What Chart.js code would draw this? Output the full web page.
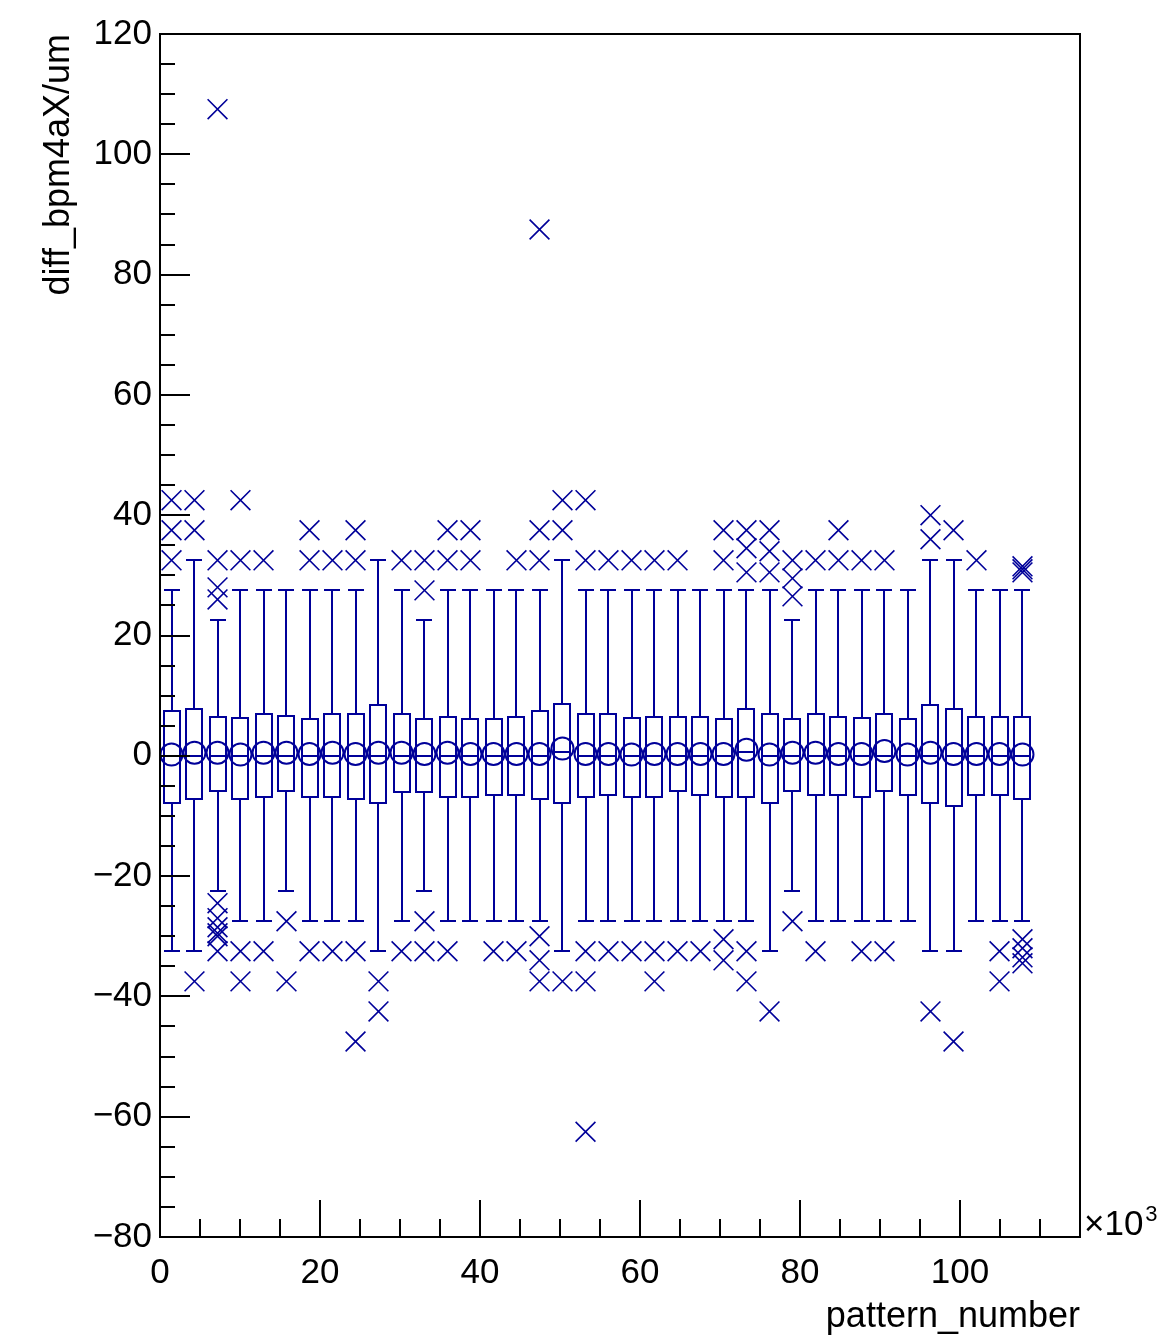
<!DOCTYPE html>
<html>
<head>
<meta charset="utf-8">
<script src="https://cdn.jsdelivr.net/npm/chart.js@4.4.1/dist/chart.umd.min.js"></script>
<style>
  html, body { margin: 0; padding: 0; background: #fff; }
  canvas { display: block; }
</style>
</head>
<body>
<canvas id="grafica" width="1164" height="1339"></canvas>
<script>
// centros de cada bin (pattern_number, x10^3)
const binCenters = [1.44, 4.31, 7.19, 10.06, 12.94, 15.81, 18.69, 21.56, 24.44, 27.31,
  30.19, 33.06, 35.94, 38.81, 41.69, 44.56, 47.44, 50.31, 53.19, 56.06,
  58.94, 61.81, 64.69, 67.56, 70.44, 73.31, 76.19, 79.06, 81.94, 84.81,
  87.69, 90.56, 93.44, 96.31, 99.19, 102.06, 104.94, 107.81];

// cuartiles (caja)
const q3 = [7.4, 7.8, 6.5, 6.3, 7.0, 6.6, 6.1, 7.0, 7.0, 8.4,
  7.0, 6.1, 6.5, 6.1, 6.1, 6.5, 7.5, 8.6, 7.0, 7.0,
  6.3, 6.5, 6.5, 6.5, 6.1, 7.8, 7.0, 6.1, 7.0, 6.5,
  6.3, 7.0, 6.1, 8.4, 7.8, 6.5, 6.5, 6.5];
const q1 = [-7.8, -7.1, -5.9, -7.1, -6.9, -5.9, -6.9, -6.9, -7.1, -7.9,
  -6.0, -6.0, -6.8, -6.9, -6.5, -6.5, -7.1, -7.9, -6.9, -6.5,
  -6.9, -6.9, -5.9, -6.5, -6.9, -6.9, -7.8, -5.9, -6.5, -6.5,
  -6.9, -5.9, -6.5, -7.8, -8.3, -6.5, -6.5, -7.1];
const medians = [0, 0, 0, 0, 0, 0, 0, 0, 0, 0,
  0, 0, 0, 0, 0, 0, 0, 0.7, 0, 0,
  0, 0, 0, 0, 0, 0.7, 0, 0, 0, 0,
  0, 0, 0, 0, 0, 0, 0, 0];
const means = [0.2, 0.5, 0.5, 0.2, 0.5, 0.5, 0.3, 0.5, 0.3, 0.5,
  0.5, 0.3, 0.5, 0.3, 0.3, 0.3, 0.3, 1.2, 0.3, 0.3,
  0.2, 0.3, 0.3, 0.3, 0.3, 1.0, 0.2, 0.5, 0.5, 0.3,
  0.3, 0.8, 0.2, 0.5, 0.3, 0.3, 0.3, 0.2];

// bigotes
const whiskerHigh = [27.5, 32.5, 22.5, 27.5, 27.5, 27.5, 27.5, 27.5, 27.5, 32.5,
  27.5, 22.5, 27.5, 27.5, 27.5, 27.5, 27.5, 32.5, 27.5, 27.5,
  27.5, 27.5, 27.5, 27.5, 27.5, 27.5, 27.5, 22.5, 27.5, 27.5,
  27.5, 27.5, 27.5, 32.5, 32.5, 27.5, 27.5, 27.5];
const whiskerLow = [-32.5, -32.5, -22.5, -27.5, -27.5, -22.5, -27.5, -27.5, -27.5, -32.5,
  -27.5, -22.5, -27.5, -27.5, -27.5, -27.5, -27.5, -32.5, -27.5, -27.5,
  -27.5, -27.5, -27.5, -27.5, -27.5, -27.5, -32.5, -22.5, -27.5, -27.5,
  -27.5, -27.5, -27.5, -32.5, -32.5, -27.5, -27.5, -27.5];

// valores atipicos por bin
const outliers = [
  [32.5, 37.5, 42.5],
  [37.5, 42.5, -37.5],
  [107.5, 32.5, 28, 26, -24.5, -27, -28.5, -29.5, -30, -32.5],
  [42.5, 32.5, -32.5, -37.5],
  [32.5, -32.5],
  [-27.5, -37.5],
  [37.5, 32.5, -32.5],
  [32.5, -32.5],
  [37.5, 32.5, -32.5, -47.5],
  [-37.5, -42.5],
  [32.5, -32.5],
  [32.5, 27.5, -27.5, -32.5],
  [37.5, 32.5, -32.5],
  [37.5, 32.5],
  [-32.5],
  [32.5, -32.5],
  [87.5, 37.5, 32.5, -30, -34, -37.5],
  [42.5, 37.5, -37.5],
  [42.5, 32.5, -32.5, -37.5, -62.5],
  [32.5, -32.5],
  [32.5, -32.5],
  [32.5, -32.5, -37.5],
  [32.5, -32.5],
  [-32.5],
  [37.5, 32.5, -30.5, -34],
  [37.5, 34.5, 30.5, -32.5, -37.5],
  [37.5, 34, 30.5, -42.5],
  [32.5, 29.5, 26.5, -27.5],
  [32.5, -32.5],
  [37.5, 32.5],
  [32.5, -32.5],
  [32.5, -32.5],
  [],
  [40, 36, -42.5],
  [37.5, -47.5],
  [32.5],
  [-32.5, -37.5],
  [30.5, 31, 31.5, -30.5, -32, -33.5, -34.5]
];

const azul = '#000099';
const fuente = "'Liberation Sans', Arial, Helvetica, sans-serif";
const candleWidth = 1.9; // ancho de la caja en unidades de x

// Dibuja cajas y bigotes usando las escalas del grafico
const candlePlugin = {
  id: 'candles',
  beforeDatasetsDraw(chart) {
    const { ctx, scales: { x, y } } = chart;
    const half = Math.round((x.getPixelForValue(candleWidth) - x.getPixelForValue(0)) / 2);
    ctx.save();
    ctx.strokeStyle = azul;
    ctx.lineWidth = 2;
    binCenters.forEach((c, i) => {
      const px = Math.round(x.getPixelForValue(c));
      const yHi = Math.round(y.getPixelForValue(whiskerHigh[i]));
      const yLo = Math.round(y.getPixelForValue(whiskerLow[i]));
      const yQ3 = Math.round(y.getPixelForValue(q3[i]));
      const yQ1 = Math.round(y.getPixelForValue(q1[i]));
      const yMed = Math.round(y.getPixelForValue(medians[i]));
      ctx.beginPath();
      ctx.moveTo(px, yHi); ctx.lineTo(px, yQ3);
      ctx.moveTo(px, yQ1); ctx.lineTo(px, yLo);
      ctx.moveTo(px - half, yHi); ctx.lineTo(px + half, yHi);
      ctx.moveTo(px - half, yLo); ctx.lineTo(px + half, yLo);
      ctx.rect(px - half, yQ3, 2 * half, yQ1 - yQ3);
      ctx.moveTo(px - half, yMed); ctx.lineTo(px + half, yMed);
      ctx.stroke();
    });
    ctx.restore();
  }
};

// Marco, marcas de los ejes y el factor x10^3 (estilo ROOT)
const framePlugin = {
  id: 'rootFrame',
  afterDraw(chart) {
    const { ctx, chartArea: a, scales: { x, y } } = chart;
    ctx.save();
    ctx.strokeStyle = '#000';
    ctx.lineWidth = 2;
    ctx.strokeRect(a.left, a.top, a.right - a.left, a.bottom - a.top);
    ctx.beginPath();
    for (let v = y.min; v <= y.max; v += 5) {
      const py = Math.round(y.getPixelForValue(v));
      const len = v % 20 === 0 ? 30 : 15;
      ctx.moveTo(a.left, py); ctx.lineTo(a.left + len, py);
    }
    for (let v = x.min; v <= x.max; v += 5) {
      const px = Math.round(x.getPixelForValue(v));
      const len = v % 20 === 0 ? 37 : 18;
      ctx.moveTo(px, a.bottom); ctx.lineTo(px, a.bottom - len);
    }
    ctx.stroke();

    ctx.fillStyle = '#000';
    ctx.textBaseline = 'alphabetic';
    ctx.textAlign = 'left';
    ctx.font = '35px ' + fuente;
    const base = a.bottom - 2;
    const txt = '\u00d710';
    ctx.fillText(txt, a.right + 4, base);
    const w = ctx.measureText(txt).width;
    ctx.font = '22px ' + fuente;
    ctx.fillText('3', a.right + 6 + w, base - 14);
    ctx.restore();
  }
};

const outlierPoints = outliers.flatMap((vals, i) => vals.map(v => ({ x: binCenters[i], y: v })));
const meanPoints = binCenters.map((c, i) => ({ x: c, y: means[i] }));

new Chart(document.getElementById('grafica'), {
  type: 'scatter',
  data: {
    datasets: [
      {
        label: 'media',
        data: meanPoints,
        pointStyle: 'circle',
        pointRadius: 11,
        backgroundColor: 'rgba(0,0,0,0)',
        borderColor: azul,
        borderWidth: 2
      },
      {
        label: 'atipicos',
        data: outlierPoints,
        pointStyle: 'crossRot',
        pointRadius: 14,
        borderColor: azul,
        borderWidth: 1.6
      }
    ]
  },
  options: {
    responsive: false,
    devicePixelRatio: 1,
    animation: false,
    layout: { padding: { top: 34, right: 84, left: 0, bottom: 0 } },
    plugins: { legend: { display: false }, tooltip: { enabled: false } },
    scales: {
      x: {
        type: 'linear',
        position: 'bottom',
        min: 0,
        max: 115,
        grid: { display: false, drawTicks: false },
        border: { display: false },
        afterBuildTicks: (scale) => { scale.ticks = scale.ticks.filter(t => t.value % 20 === 0); },
        afterFit: (scale) => { scale.height = 102; },
        ticks: {
          stepSize: 20,
          padding: 15,
          color: '#000',
          font: { family: fuente, size: 35 },
          maxRotation: 0
        },
        title: {
          display: true,
          text: 'pattern_number',
          align: 'end',
          color: '#000',
          font: { family: fuente, size: 36 },
          padding: { top: 0, bottom: 0 }
        }
      },
      y: {
        type: 'linear',
        position: 'left',
        min: -80,
        max: 120,
        grid: { display: false, drawTicks: false },
        border: { display: false },
        afterFit: (scale) => { scale.width = 160; },
        ticks: {
          stepSize: 20,
          padding: 8,
          color: '#000',
          font: { family: fuente, size: 35 },
          callback: (v) => String(v).replace('-', '\u2212')
        },
        title: {
          display: true,
          text: 'diff_bpm4aX/um',
          align: 'end',
          color: '#000',
          font: { family: fuente, size: 36 },
          padding: { top: 37, bottom: 0 }
        }
      }
    }
  },
  plugins: [candlePlugin, framePlugin]
});
</script>
</body>
</html>
